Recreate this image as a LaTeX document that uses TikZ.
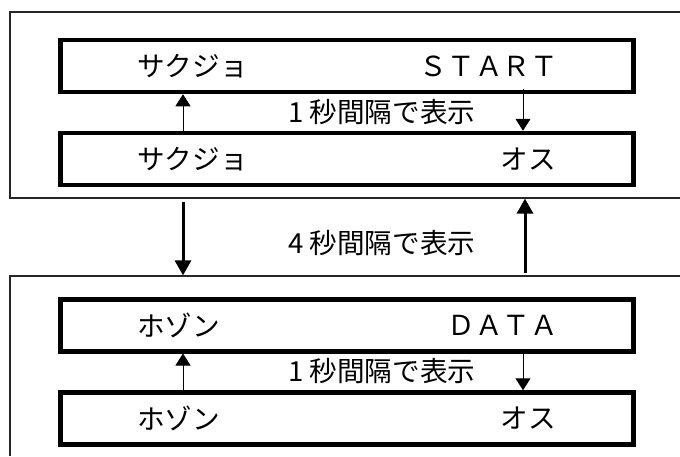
\documentclass[tikz,border=0pt]{standalone}
\usepackage{fontspec}
\setmainfont{Noto Sans CJK JP}
\usetikzlibrary{arrows.meta}
\begin{document}
\begin{tikzpicture}[x=1pt,y=-1pt,
  inbox/.style={draw=black,line width=4.5pt,outer sep=2.25pt,inner sep=0pt,
    minimum width=573pt,minimum height=52pt,rectangle},
  frame/.style={draw=black!85,line width=1.3pt},
  txt/.style={inner sep=0pt,font=\fontsize{27.6}{32}\selectfont},
  thinarrow/.style={line width=1pt,-{Triangle[width=15pt,length=12pt]}},
  bigarrow/.style={line width=3pt,-{Triangle[width=16pt,length=15pt]}}]
\useasboundingbox (0,0) rectangle (680,456);
% outer frames
\draw[frame] (680,12) -- (10,12) -- (10,198) -- (680,198);
\draw[frame] (680,276) -- (10,276) -- (10,456);
\coordinate (o1bl) at (10,198);
\coordinate (o2tl) at (10,276);
% inner boxes
\node[inbox] (b1) at (347,66) {};
\node[inbox] (b2) at (347,159) {};
\node[inbox] (b3) at (347,325.25) {};
\node[inbox] (b4) at (347,418.5) {};
% texts
\node[txt,anchor=west] (t1l) at (137,66) {サクジョ};
\node[txt,anchor=east] (t1r) at (558,66) {ＳＴＡＲＴ};
\node[txt,anchor=west] (t2l) at (137,159) {サクジョ};
\node[txt,anchor=east] (t2r) at (556,159) {オス};
\node[txt,anchor=west] (t3l) at (137,325.25) {ホゾン};
\node[txt,anchor=east] (t3r) at (558,325.25) {ＤＡＴＡ};
\node[txt,anchor=west] (t4l) at (137,418.5) {ホゾン};
\node[txt,anchor=east] (t4r) at (556,418.5) {オス};
\node[txt,anchor=west] (m1) at (288,112.5) {1 秒間隔で表示};
\node[txt,anchor=west] (m2) at (288,243) {4 秒間隔で表示};
\node[txt,anchor=west] (m3) at (288,371.5) {1 秒間隔で表示};
% arrow columns
\coordinate (ax) at (183,0);
\coordinate (bx) at (523,0);
\coordinate (cx) at (525,0);
% thin arrows
\draw[thinarrow] (b2.north -| ax) -- (b1.south -| ax);
\draw[thinarrow] ([yshift=5pt]b1.south -| bx) -- (b2.north -| bx);
\draw[thinarrow] (b4.north -| ax) -- (b3.south -| ax);
\draw[thinarrow] ([yshift=5pt]b3.south -| bx) -- (b4.north -| bx);
% big arrows
\draw[bigarrow] ([yshift=-4pt]o1bl -| ax) -- ([yshift=0.6pt]o2tl -| ax);
\draw[bigarrow] ([yshift=3pt]o2tl -| cx) -- ([yshift=-0.6pt]o1bl -| cx);
\end{tikzpicture}
\end{document}
